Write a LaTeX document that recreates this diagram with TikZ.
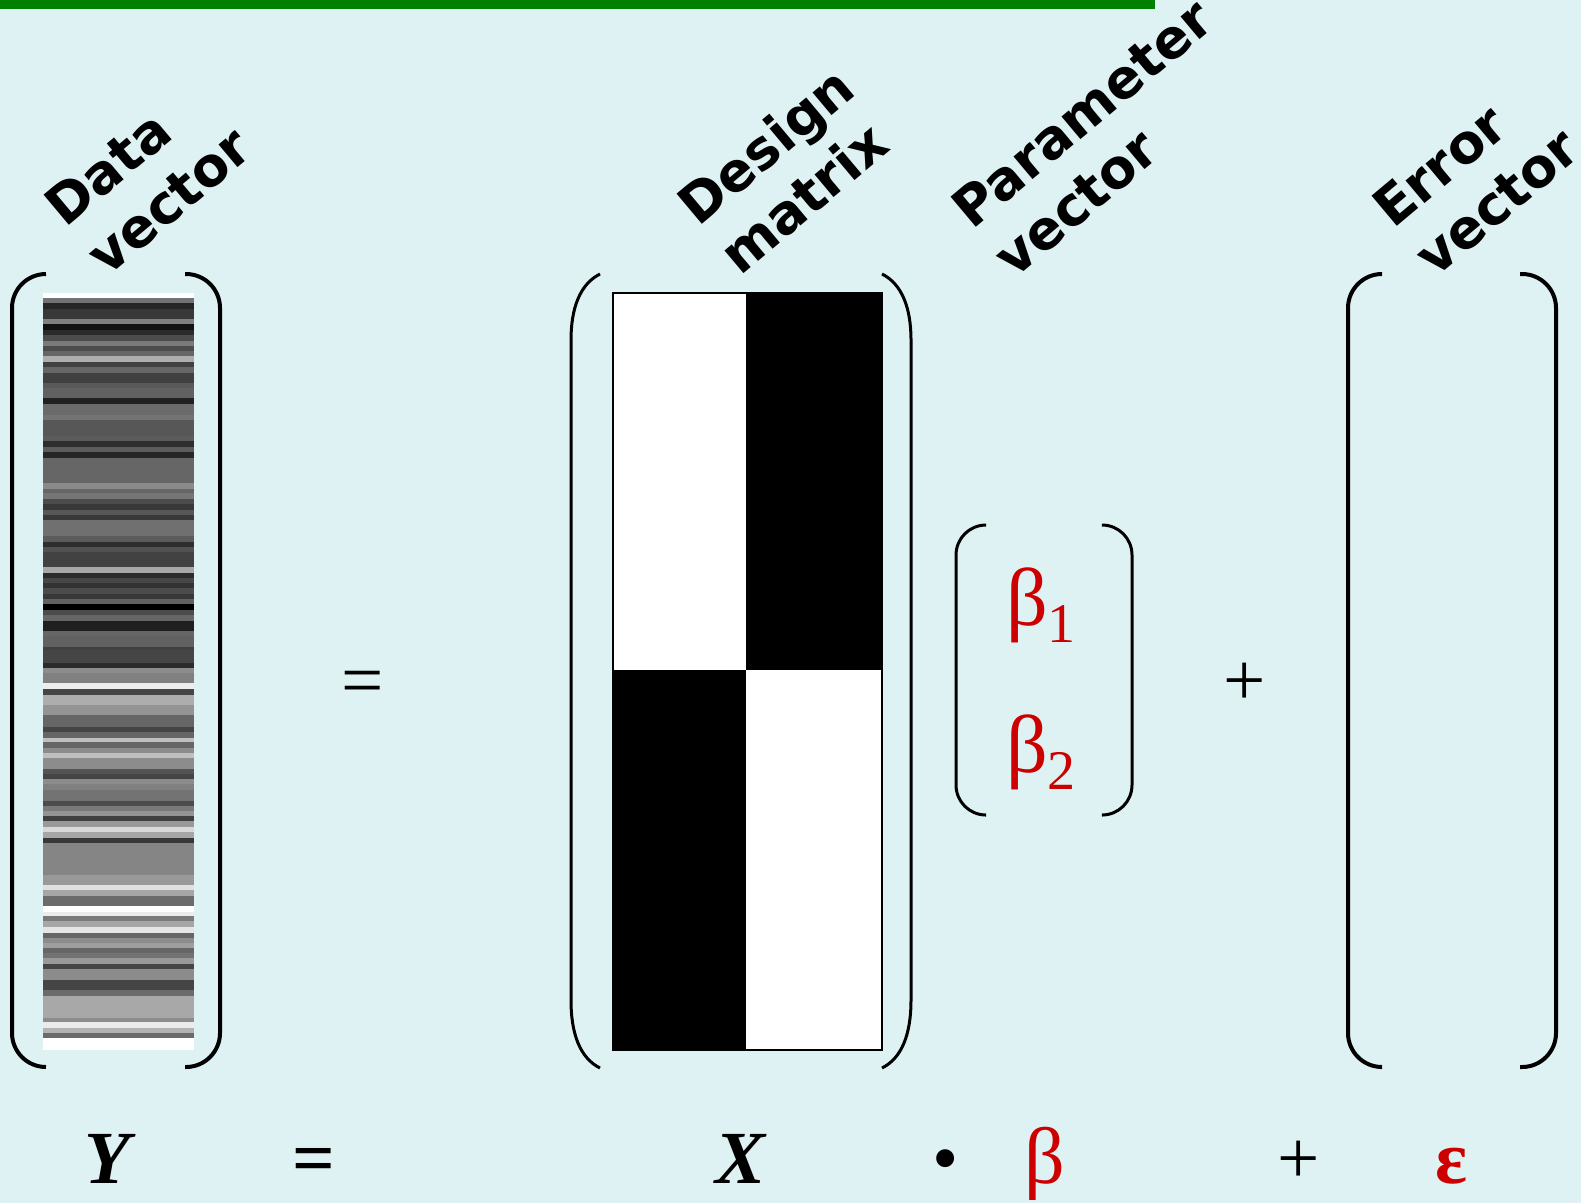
\documentclass[tikz,border=0pt]{standalone}
\usepackage{fontspec}
\setmainfont{Liberation Serif}
\newfontfamily\lblfont{DejaVu Sans}
\begin{document}
\begin{tikzpicture}[x=1pt,y=-1pt,
  lbl/.style={font=\lblfont\bfseries\fontsize{54}{54}\selectfont, rotate=40, anchor=base west, inner sep=0},
  eq/.style={font=\fontsize{75}{75}\selectfont, anchor=base, inner sep=0},
  brk/.style={line width=4pt, rounded corners=34pt},
  brkthin/.style={line width=3pt},
  redtxt/.style={text=red80}]
\definecolor{bgc}{RGB}{223,242,243}
\definecolor{barg}{RGB}{0,128,0}
\definecolor{red80}{RGB}{204,0,0}
\fill[bgc] (0,0) rectangle (1581,1203);
\useasboundingbox (0,0) rectangle (1581,1203);
% green top bar
\fill[barg] (0,0) rectangle (1155,9);
% data vector stripes
\foreach \a/\b/\c in {293.3/298.3/100,298.3/303.3/45,303.3/309.3/15,309.3/319.3/22,319.3/324.3/50,324.3/330/7,330/335/17,335/341/30,341/346/48,346/351/30,351/356/40,356/361.7/68,361.7/366.7/25,366.7/372.7/40,372.7/383.3/25,383.3/388.3/35,388.3/398.3/38,398.3/404/13,404/415/42,415/420/45,420/436/34,436/441/36,441/446.7/18,446.7/452.3/36,452.3/457.7/15,457.7/483.3/40,483.3/489.3/54,489.3/493.3/40,493.3/499.3/46,499.3/504.3/30,504.3/510/22,510/515/34,515/520/22,520/536/44,536/541.7/36,541.7/546.7/18,546.7/551.7/32,551.7/566.7/26,566.7/572.7/66,572.7/578.3/17,578.3/583.3/28,583.3/588.3/20,588.3/594.3/30,594.3/599.3/22,599.3/604.3/38,604.3/610/0,610/615/30,615/621/40,621/631/12,631/636/40,636/646.7/38,646.7/650/25,650/663.3/27,663.3/667.7/17,667.7/673.3/55,673.3/683.3/50,683.3/689/93,689/695/27,695/705/68,705/715/58,715/726.7/40,726.7/731.7/27,731.7/737.7/40,737.7/742.3/75,742.3/747.7/40,747.7/752.7/55,752.7/758.3/75,758.3/769.3/55,769.3/774/33,774/779.3/27,779.3/784.3/55,784.3/790/50,790/801/45,801/806/30,806/811/48,811/816/58,816/821/25,821/826.7/60,826.7/832.3/85,832.3/837.7/65,837.7/843.3/22,843.3/875/52,875/885/60,885/890/88,890/895.7/65,895.7/906/42,906/911.7/100,911.7/916/92,916/921/48,921/926.7/65,926.7/932.7/90,932.7/937.7/40,937.7/943.3/55,943.3/948.3/62,948.3/953.3/40,953.3/958.3/45,958.3/964/60,964/969.3/27,969.3/980/55,980/990/27,990/995.7/42,995.7/1017.7/66,1017.7/1022.3/55,1022.3/1027.7/92,1027.7/1032.7/70,1032.7/1038.3/42,1038.3/1050/100}
  {\fill[white!\c!black] (43,\a) rectangle (194,\b+0.4);}
% data vector brackets
\draw[brk] (46,274) -- (12,274) -- (12,1067) -- (46,1067);
\draw[brk] (185,274) -- (220,274) -- (220,1067) -- (185,1067);
% design matrix
\fill[white] (613,293) rectangle (746,670);
\fill[black] (746,293) rectangle (882,670);
\fill[black] (613,670) rectangle (746,1050);
\fill[white] (746,670) rectangle (882,1050);
\draw[line width=1.5pt] (613,293) rectangle (882,1050);
\draw[brkthin] (600,274) .. controls (580,284) and (571,308) .. (571,340) -- (571,1000) .. controls (571,1034) and (580,1058) .. (600,1068);
\draw[brkthin] (882,274) .. controls (902,284) and (911,308) .. (911,340) -- (911,1000) .. controls (911,1034) and (902,1058) .. (882,1068);
% parameter vector brackets
\draw[line width=3pt, rounded corners=30pt] (985,525) -- (956,525) -- (956,815) -- (985,815);
\draw[line width=3pt, rounded corners=30pt] (1103,525) -- (1132,525) -- (1132,815) -- (1103,815);
\node[eq, anchor=base west, redtxt, font=\fontsize{82}{82}\selectfont] (b1) at (1006,625) {β\raisebox{-17pt}{\fontsize{56}{56}\selectfont 1}};
\node[eq, anchor=base west, redtxt, font=\fontsize{82}{82}\selectfont] (b2) at (1006,772) {β\raisebox{-17pt}{\fontsize{56}{56}\selectfont 2}};
% error vector brackets
\draw[brk] (1381,274) -- (1348,274) -- (1348,1067) -- (1381,1067);
\draw[brk] (1520,274) -- (1556,274) -- (1556,1067) -- (1520,1067);
% middle operators
\node[eq] (eqm) at (363,705) {=};
\node[eq] (plusm) at (1245,705) {+};
% labels
\node[lbl] (dl1) at (65,229) {Data};
\node[lbl] (dl2) at (107,278) {vector};
\node[lbl] (ml1) at (698,228) {Design};
\node[lbl] (ml2) at (740,277) {matrix};
\node[lbl] (pl1) at (972,231) {Parameter};
\node[lbl] (pl2) at (1014,280) {vector};
\node[lbl] (el1) at (1393,230) {Error};
\node[lbl] (el2) at (1435,279) {vector};
% bottom equation
\node[eq, font=\bfseries\itshape\fontsize{75}{75}\selectfont] (Y) at (107,1183) {Y};
\node[eq, font=\bfseries\fontsize{75}{75}\selectfont] (eqb) at (314,1183) {=};
\node[eq, font=\bfseries\itshape\fontsize{75}{75}\selectfont] (X) at (741,1183) {X};
\node[eq] (dot) at (946,1183) {•};
\node[eq, redtxt, font=\fontsize{80}{80}\selectfont] (beta) at (1045,1183) {β};
\node[eq] (plusb) at (1299,1183) {+};
\node[eq, redtxt, font=\bfseries\fontsize{75}{75}\selectfont] (eps) at (1452,1183) {ε};
\end{tikzpicture}
\end{document}
